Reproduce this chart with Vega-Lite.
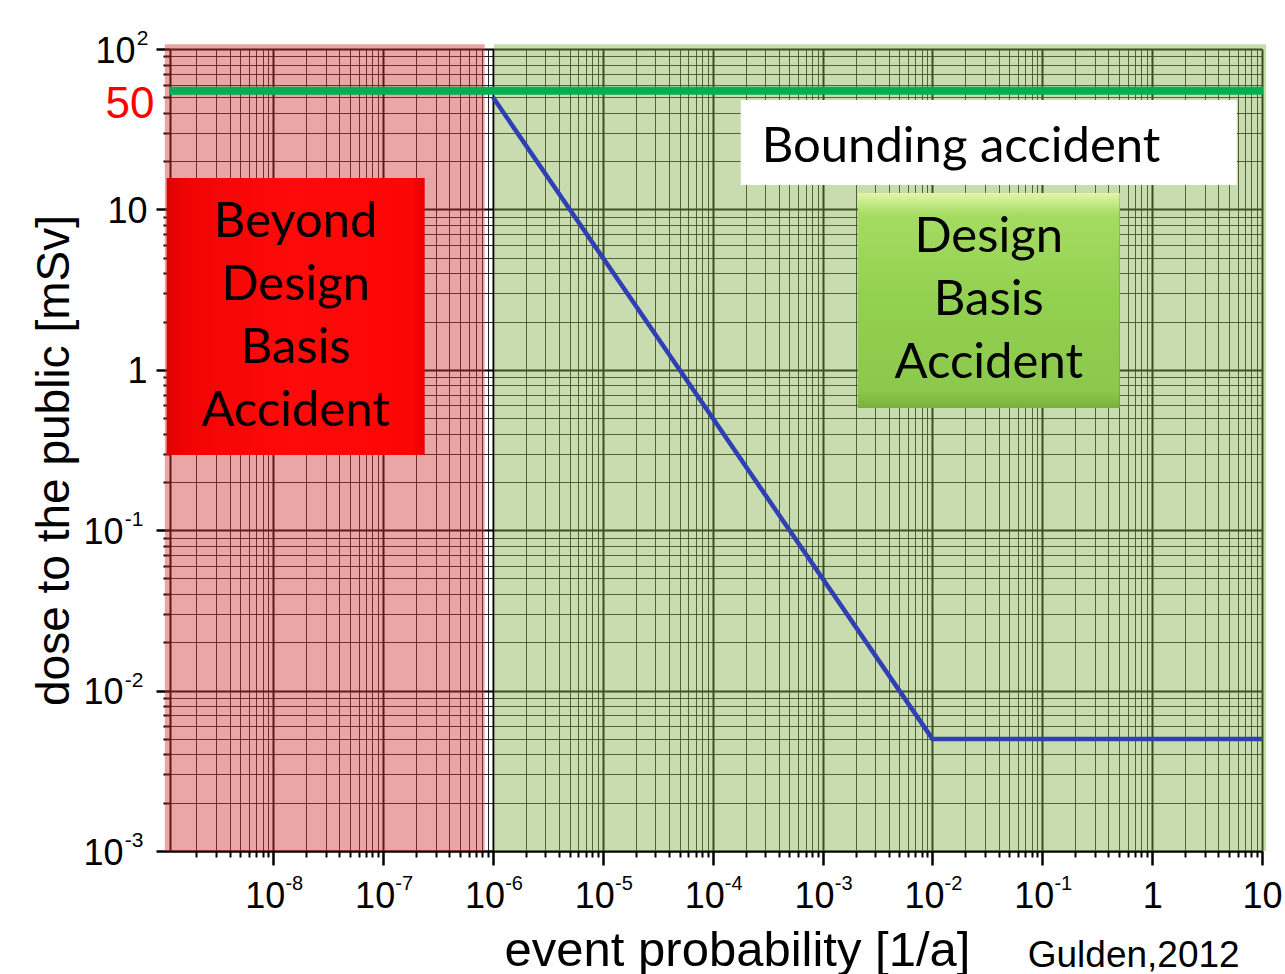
{
  "$schema": "https://vega.github.io/schema/vega-lite/v6.json",
  "width": 1092,
  "height": 802,
  "autosize": {"type": "none"},
  "padding": {"left": 170, "top": 49, "right": 23, "bottom": 123},
  "background": "white",
  "config": {"view": {"stroke": null}},
  "datasets": {
    "regions": [
      {"zone": "beyond", "x": 1.03e-9, "x2": 8.4e-7, "y": 0.001, "y2": 107},
      {"zone": "design", "x": 1.02e-6, "x2": 10.9, "y": 0.001, "y2": 107}
    ],
    "limit": [
      {"x": 1.148e-9, "y": 55},
      {"x": 10.2, "y": 55}
    ],
    "curve": [
      {"x": 1e-6, "y": 50},
      {"x": 0.01, "y": 0.005},
      {"x": 10, "y": 0.005}
    ],
    "whitebox": [{"x": 1.8e-4, "x2": 5.89, "y": 48.1, "y2": 14.2}],
    "redbox": [{"x": 1.07e-9, "x2": 2.39e-7, "y": 15.7, "y2": 0.294}],
    "greenbox": [{"x": 2.09e-3, "x2": 0.507, "y": 12.65, "y2": 0.578}],
    "bounding": [{"x": 2.79e-4, "y": 19.75, "text": "Bounding accident"}],
    "boxtexts": [
      {"x": 1.6e-8, "y": 8.35, "text": "Beyond\nDesign\nBasis\nAccident"},
      {"x": 0.03254, "y": 6.73, "text": "Design\nBasis\nAccident"}
    ],
    "credit": [{"x": 0.0737, "y": 1.89e-4, "text": "Gulden,2012"}],
    "xexp": [
      {"x": 1.29e-8, "y": 5.71e-4, "text": "-8"},
      {"x": 1.29e-7, "y": 5.71e-4, "text": "-7"},
      {"x": 1.29e-6, "y": 5.71e-4, "text": "-6"},
      {"x": 1.29e-5, "y": 5.71e-4, "text": "-5"},
      {"x": 1.29e-4, "y": 5.71e-4, "text": "-4"},
      {"x": 1.29e-3, "y": 5.71e-4, "text": "-3"},
      {"x": 1.29e-2, "y": 5.71e-4, "text": "-2"},
      {"x": 1.29e-1, "y": 5.71e-4, "text": "-1"}
    ],
    "yexp": [
      {"x": 5.72e-10, "y": 106, "text": "2"},
      {"x": 4.45e-10, "y": 0.106, "text": "-1"},
      {"x": 4.45e-10, "y": 0.0106, "text": "-2"},
      {"x": 4.45e-10, "y": 0.00106, "text": "-3"}
    ]
  },
  "encoding": {
    "x": {
      "field": "x",
      "type": "quantitative",
      "scale": {"type": "log", "domain": [1.148e-9, 10], "nice": false},
      "axis": {
        "title": "event probability [1/a]",
        "values": [2e-9,3e-9,4e-9,5e-9,6e-9,7e-9,8e-9,9e-9,
          1e-8,2e-8,3e-8,4e-8,5e-8,6e-8,7e-8,8e-8,9e-8,
          1e-7,2e-7,3e-7,4e-7,5e-7,6e-7,7e-7,8e-7,9e-7,
          1e-6,2e-6,3e-6,4e-6,5e-6,6e-6,7e-6,8e-6,9e-6,
          1e-5,2e-5,3e-5,4e-5,5e-5,6e-5,7e-5,8e-5,9e-5,
          1e-4,2e-4,3e-4,4e-4,5e-4,6e-4,7e-4,8e-4,9e-4,
          0.001,0.002,0.003,0.004,0.005,0.006,0.007,0.008,0.009,
          0.01,0.02,0.03,0.04,0.05,0.06,0.07,0.08,0.09,
          0.1,0.2,0.3,0.4,0.5,0.6,0.7,0.8,0.9,
          1,2,3,4,5,6,7,8,9,10],
        "labelExpr": "abs(log(datum.value)/LN10 - round(log(datum.value)/LN10)) < 0.001 ? (round(log(datum.value)/LN10) == 0 ? '1' : '10') : ''",
        "labelFont": "Liberation Sans",
        "labelFontSize": 36,
        "labelColor": "black",
        "labelBaseline": "alphabetic",
        "labelAlign": "center",
        "labelPadding": 42,
        "labelOffset": {"condition": {"test": "datum.value < 0.5", "value": -8.5}, "value": 0},
        "labelOverlap": false,
        "labelFlush": false,
        "labelBound": false,
        "ticks": true,
        "tickColor": "black",
        "tickSize": {"condition": {"test": "abs(log(datum.value)/LN10 - round(log(datum.value)/LN10)) < 0.001", "value": 14}, "value": 6},
        "tickWidth": {"condition": {"test": "abs(log(datum.value)/LN10 - round(log(datum.value)/LN10)) < 0.001", "value": 2.5}, "value": 2},
        "grid": true,
        "gridColor": "black",
        "gridWidth": {"condition": {"test": "abs(log(datum.value)/LN10 - round(log(datum.value)/LN10)) < 0.001", "value": 2}, "value": 1},
        "gridOpacity": {"condition": {"test": "abs(log(datum.value)/LN10 - round(log(datum.value)/LN10)) < 0.001", "value": 1}, "value": 0.85},
        "domainColor": "black",
        "domainWidth": 2,
        "titleFont": "Liberation Sans",
        "titleFontSize": 49,
        "titleFontWeight": "normal",
        "titleColor": "black",
        "titleX": 567,
        "titleY": 114,
        "titleBaseline": "alphabetic",
        "titleAlign": "center"
      }
    },
    "y": {
      "field": "y",
      "type": "quantitative",
      "scale": {"type": "log", "domain": [0.001, 100], "nice": false},
      "axis": {
        "title": "dose to the public [mSv]",
        "values": [0.001,0.002,0.003,0.004,0.005,0.006,0.007,0.008,0.009,
          0.01,0.02,0.03,0.04,0.05,0.06,0.07,0.08,0.09,
          0.1,0.2,0.3,0.4,0.5,0.6,0.7,0.8,0.9,
          1,2,3,4,5,6,7,8,9,
          10,20,30,40,50,60,70,80,90,100],
        "labelExpr": "datum.value == 50 ? '50' : abs(log(datum.value)/LN10 - round(log(datum.value)/LN10)) < 0.001 ? (round(log(datum.value)/LN10) == 0 ? '1' : '10') : ''",
        "labelFont": "Liberation Sans",
        "labelFontSize": {"condition": {"test": "datum.value == 50", "value": 44}, "value": 36},
        "labelColor": {"condition": {"test": "datum.value == 50", "value": "#ff0000"}, "value": "black"},
        "labelOffset": {"condition": {"test": "datum.value == 50", "value": 7}, "value": 2},
        "labelPadding": {"condition": [{"test": "datum.value < 0.5", "value": 33}, {"test": "datum.value > 99", "value": 21}], "value": 9},
        "labelBaseline": "middle",
        "labelAlign": "right",
        "labelOverlap": false,
        "labelFlush": false,
        "labelBound": false,
        "ticks": true,
        "tickColor": "black",
        "tickSize": {"condition": {"test": "abs(log(datum.value)/LN10 - round(log(datum.value)/LN10)) < 0.001", "value": 14}, "value": 7},
        "tickWidth": {"condition": {"test": "abs(log(datum.value)/LN10 - round(log(datum.value)/LN10)) < 0.001", "value": 2.5}, "value": 2},
        "grid": true,
        "gridColor": "black",
        "gridWidth": {"condition": {"test": "abs(log(datum.value)/LN10 - round(log(datum.value)/LN10)) < 0.001", "value": 2}, "value": 1},
        "gridOpacity": {"condition": {"test": "abs(log(datum.value)/LN10 - round(log(datum.value)/LN10)) < 0.001", "value": 1}, "value": 0.85},
        "domainColor": "black",
        "domainWidth": 2,
        "titleFont": "Liberation Sans",
        "titleFontSize": 46,
        "titleFontWeight": "normal",
        "titleColor": "black",
        "titleAngle": -90,
        "titleX": -102,
        "titleY": 411,
        "titleBaseline": "alphabetic",
        "titleAlign": "center"
      }
    }
  },
  "layer": [
    {
      "data": {"name": "regions"},
      "mark": {"type": "rect", "opacity": 0.45},
      "encoding": {
        "x2": {"field": "x2"},
        "y2": {"field": "y2"},
        "color": {"field": "zone", "type": "nominal", "scale": {"domain": ["beyond", "design"], "range": ["#d13737", "#85b250"]}, "legend": null}
      }
    },
    {
      "data": {"name": "curve"},
      "mark": {"type": "line", "color": "#2f3fb4", "strokeWidth": 4.5},
      "encoding": {}
    },
    {
      "data": {"name": "limit"},
      "mark": {"type": "line", "color": "#00b050", "strokeWidth": 8, "strokeCap": "butt"},
      "encoding": {}
    },
    {
      "data": {"name": "whitebox"},
      "mark": {"type": "rect", "color": "white", "opacity": 1},
      "encoding": {"x2": {"field": "x2"}, "y2": {"field": "y2"}}
    },
    {
      "data": {"name": "redbox"},
      "mark": {"type": "rect", "opacity": 1, "color": {"gradient": "linear", "x1": 0, "y1": 0, "x2": 1, "y2": 0, "stops": [{"offset": 0, "color": "#dd0000"}, {"offset": 0.08, "color": "#f20404"}, {"offset": 0.5, "color": "#ff0a0a"}, {"offset": 0.95, "color": "#fb0505"}, {"offset": 1, "color": "#e80000"}]}},
      "encoding": {"x2": {"field": "x2"}, "y2": {"field": "y2"}}
    },
    {
      "data": {"name": "greenbox"},
      "mark": {"type": "rect", "opacity": 1, "color": {"gradient": "linear", "x1": 0, "y1": 0, "x2": 0, "y2": 1, "stops": [{"offset": 0, "color": "#e2f7a8"}, {"offset": 0.1, "color": "#a5dc62"}, {"offset": 0.5, "color": "#92d050"}, {"offset": 0.92, "color": "#8cc84c"}, {"offset": 1, "color": "#78b03c"}]}},
      "encoding": {"x2": {"field": "x2"}, "y2": {"field": "y2"}}
    },
    {
      "data": {"name": "bounding"},
      "mark": {"type": "text", "font": "Lato", "fontSize": 49, "color": "black", "align": "left", "baseline": "alphabetic"},
      "encoding": {"text": {"field": "text"}}
    },
    {
      "data": {"name": "boxtexts"},
      "mark": {"type": "text", "font": "Lato", "fontSize": 49, "color": "black", "align": "center", "baseline": "middle", "lineBreak": "\n", "lineHeight": 63},
      "encoding": {"text": {"field": "text"}}
    },
    {
      "data": {"name": "credit"},
      "mark": {"type": "text", "font": "Liberation Sans", "fontSize": 37, "color": "black", "align": "left", "baseline": "alphabetic"},
      "encoding": {"text": {"field": "text"}}
    },
    {
      "data": {"name": "xexp"},
      "mark": {"type": "text", "font": "Liberation Sans", "fontSize": 20, "color": "black", "align": "left", "baseline": "alphabetic"},
      "encoding": {"text": {"field": "text"}}
    },
    {
      "data": {"name": "yexp"},
      "mark": {"type": "text", "font": "Liberation Sans", "fontSize": 21, "color": "black", "align": "left", "baseline": "alphabetic"},
      "encoding": {"text": {"field": "text"}}
    }
  ]
}
